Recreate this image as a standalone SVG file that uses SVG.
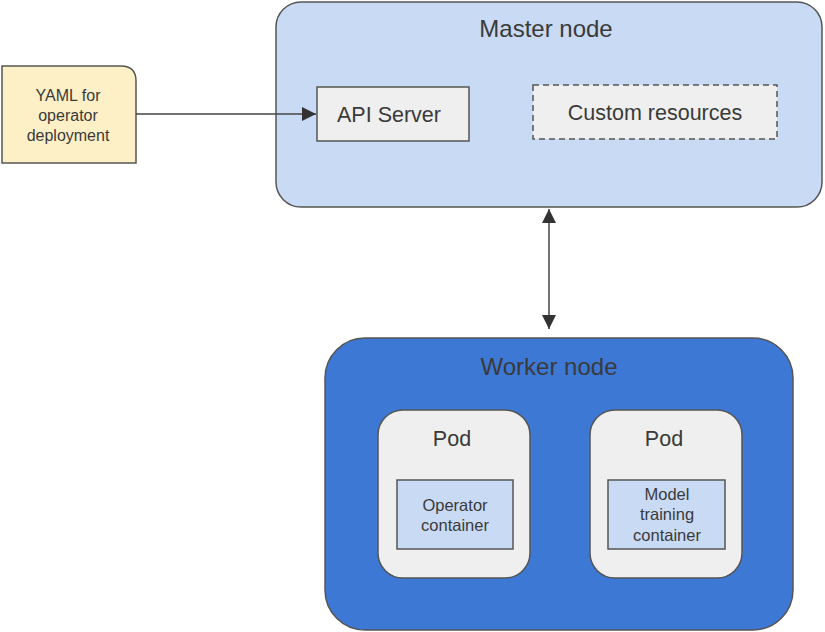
<svg xmlns="http://www.w3.org/2000/svg" width="825" height="632" viewBox="0 0 825 632">
<defs>
<style>
text{font-family:"Liberation Sans",Arial,sans-serif;fill:#3a3a3a;text-anchor:middle}
.b{stroke:#555;stroke-width:1.5}
.c{stroke:#444;stroke-width:1.5;fill:none}
</style>
<marker id="av" viewBox="0 0 10 10" refX="10" refY="5" markerWidth="16" markerHeight="14" markerUnits="userSpaceOnUse" orient="auto-start-reverse"><path d="M0,0L10,5L0,10z" fill="#333"/></marker>
</defs>
<rect width="825" height="632" fill="#fff"/>
<g id="yaml">
<path class="b" d="M2,66H121Q136,66 136,81V163H2Z" fill="#fdf0c6"/>
<text x="68" y="101" font-size="16">YAML for</text>
<text x="68" y="121" font-size="16">operator</text>
<text x="68" y="141" font-size="16">deployment</text>
</g>
<g id="master">
<rect class="b" x="276" y="2" width="546" height="205" rx="25" fill="#c9daf5"/>
<text x="546" y="37" font-size="24">Master node</text>
</g>
<g id="api">
<rect class="b" x="317" y="87" width="152" height="54" fill="#eeefee"/>
<text x="389" y="122" font-size="21.5">API Server</text>
</g>
<g id="custom">
<rect class="b" x="533" y="85" width="244" height="54" fill="#eeefee" stroke-dasharray="6,4"/>
<text x="655" y="120" font-size="21.5">Custom resources</text>
</g>
<g id="worker">
<rect class="b" x="325" y="338" width="468" height="292" rx="40" fill="#3d78d4"/>
<text x="549" y="375" font-size="24">Worker node</text>
</g>
<g id="pod1">
<rect class="b" x="378" y="410" width="152" height="168" rx="25" fill="#eeefee"/>
<text x="452" y="446" font-size="21.5">Pod</text>
</g>
<g id="pod2">
<rect class="b" x="590" y="410" width="152" height="168" rx="25" fill="#eeefee"/>
<text x="664" y="446" font-size="21.5">Pod</text>
</g>
<g id="opc">
<rect class="b" x="397" y="480" width="116" height="69" fill="#c9daf5"/>
<text x="455" y="511" font-size="16.5">Operator</text>
<text x="455" y="531" font-size="16.5">container</text>
</g>
<g id="mtc">
<rect class="b" x="608" y="480" width="117" height="69" fill="#c9daf5"/>
<text x="667" y="500" font-size="16.5">Model</text>
<text x="667" y="520" font-size="16.5">training</text>
<text x="667" y="541" font-size="16.5">container</text>
</g>
<g id="connectors">
<line class="c" x1="136" y1="114" x2="316" y2="114" marker-end="url(#av)"/>
<line class="c" x1="549" y1="209" x2="549" y2="329" marker-start="url(#av)" marker-end="url(#av)"/>
</g>
</svg>
